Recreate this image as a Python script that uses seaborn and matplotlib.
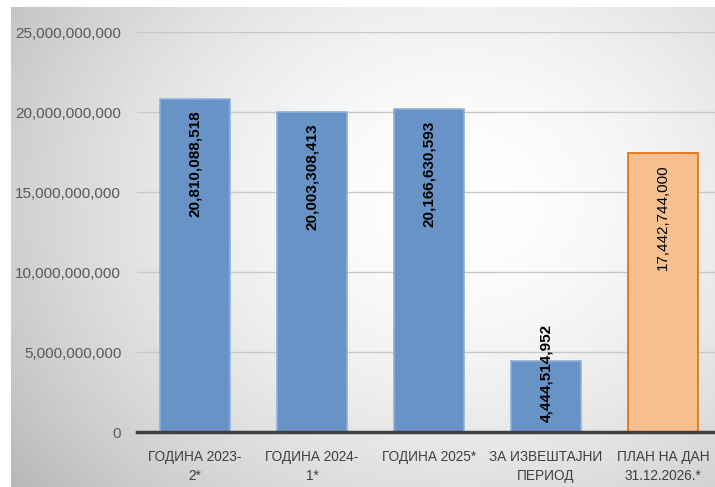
import numpy as np
import pandas as pd
import matplotlib
matplotlib.use("Agg")
import matplotlib.pyplot as plt
import matplotlib.ticker as mticker
import seaborn as sns

categories = ["ГОДИНА 2023-\n2*", "ГОДИНА 2024-\n1*", "ГОДИНА 2025*",
              "ЗА ИЗВЕШТАЈНИ\nПЕРИОД", "ПЛАН НА ДАН\n31.12.2026.*"]
values = [20810088518, 20003308413, 20166630593, 4444514952, 17442744000]
value_labels = ["20,810,088,518", "20,003,308,413", "20,166,630,593",
                "4,444,514,952", "17,442,744,000"]
y_ticks = [0, 5e9, 10e9, 15e9, 20e9, 25e9]

fill_colors = ["#6893c6", "#6893c6", "#6893c6", "#6893c6", "#f9c08f"]
edge_colors = ["#8fb0d8", "#8fb0d8", "#8fb0d8", "#8fb0d8", "#e46c0a"]

sns.set_theme(style="white")
plt.rcParams["font.family"] = ["Liberation Sans", "DejaVu Sans"]

W, H = 715, 487
fig = plt.figure(figsize=(W / 100, H / 100), dpi=100)
fig.patch.set_facecolor("white")

# gradient background of chart area
bg = fig.add_axes([11 / W, 0, 1 - 11 / W, (H - 7) / H])
bg.set_axis_off()
xs = np.linspace(11, W, 400)
ys = np.linspace(7, H, 300)
X, Y = np.meshgrid(xs, ys)
d = np.sqrt(((X - 460) / 520) ** 2 + ((Y - 200) / 430) ** 2)
v = 1.0 - 0.24 * np.clip(d, 0, 1.3) ** 1.7
img = np.dstack([v, v, v])
bg.imshow(img, aspect="auto", extent=[0, 1, 0, 1], origin="upper", zorder=0)
bg.set_xlim(0, 1)
bg.set_ylim(0, 1)

left, right = 136.5, W
bottom_px, top_px = 432, 32
ax = fig.add_axes([left / W, (H - bottom_px) / H, (right - left) / W,
                   (bottom_px - top_px) / H])
ax.set_facecolor("none")

df = pd.DataFrame({"cat": categories, "val": values})
sns.barplot(data=df, x="cat", y="val", hue="cat", palette=fill_colors,
            legend=False, width=0.6, saturation=1, ax=ax, zorder=3)
for p, ec in zip(ax.patches, edge_colors):
    p.set_edgecolor(ec)
    p.set_linewidth(1.2)

cat_w = right - left
spacing = 117.0
ax.set_xlim(-0.5, -0.5 + cat_w / spacing)
ax.set_ylim(0, 25e9)
ax.set_yticks(y_ticks)
ax.yaxis.set_major_formatter(mticker.FuncFormatter(lambda v, p: f"{int(v):,}"))
ax.tick_params(axis="y", labelsize=11, labelcolor="#595959", length=0, pad=11)
ax.tick_params(axis="x", labelsize=9.8, labelcolor="#404040", length=0, pad=13)
ax.grid(axis="y", color="#c8c8c8", linewidth=1, zorder=0)
ax.set_axisbelow(True)
for s in ["top", "right", "left"]:
    ax.spines[s].set_visible(False)
ax.spines["bottom"].set_color("#404040")
ax.spines["bottom"].set_linewidth(2.5)
ax.spines["bottom"].set_zorder(5)
ax.set_xlabel("")
ax.set_ylabel("")
for lbl in ax.get_xticklabels():
    lbl.set_linespacing(1.45)

for i, (val, txt) in enumerate(zip(values, value_labels)):
    weight = "normal" if i == 4 else "bold"
    if i == 3:
        ax.annotate(txt, xy=(i, 0), xytext=(0, 7.5), textcoords="offset points",
                    rotation=90, ha="center", va="bottom", fontsize=11,
                    fontweight=weight, color="black", zorder=6)
    else:
        ax.annotate(txt, xy=(i, val), xytext=(0, -8.5), textcoords="offset points",
                    rotation=90, ha="center", va="top", fontsize=11,
                    fontweight=weight, color="black", zorder=6)

fig.savefig("out.png", dpi=100)
